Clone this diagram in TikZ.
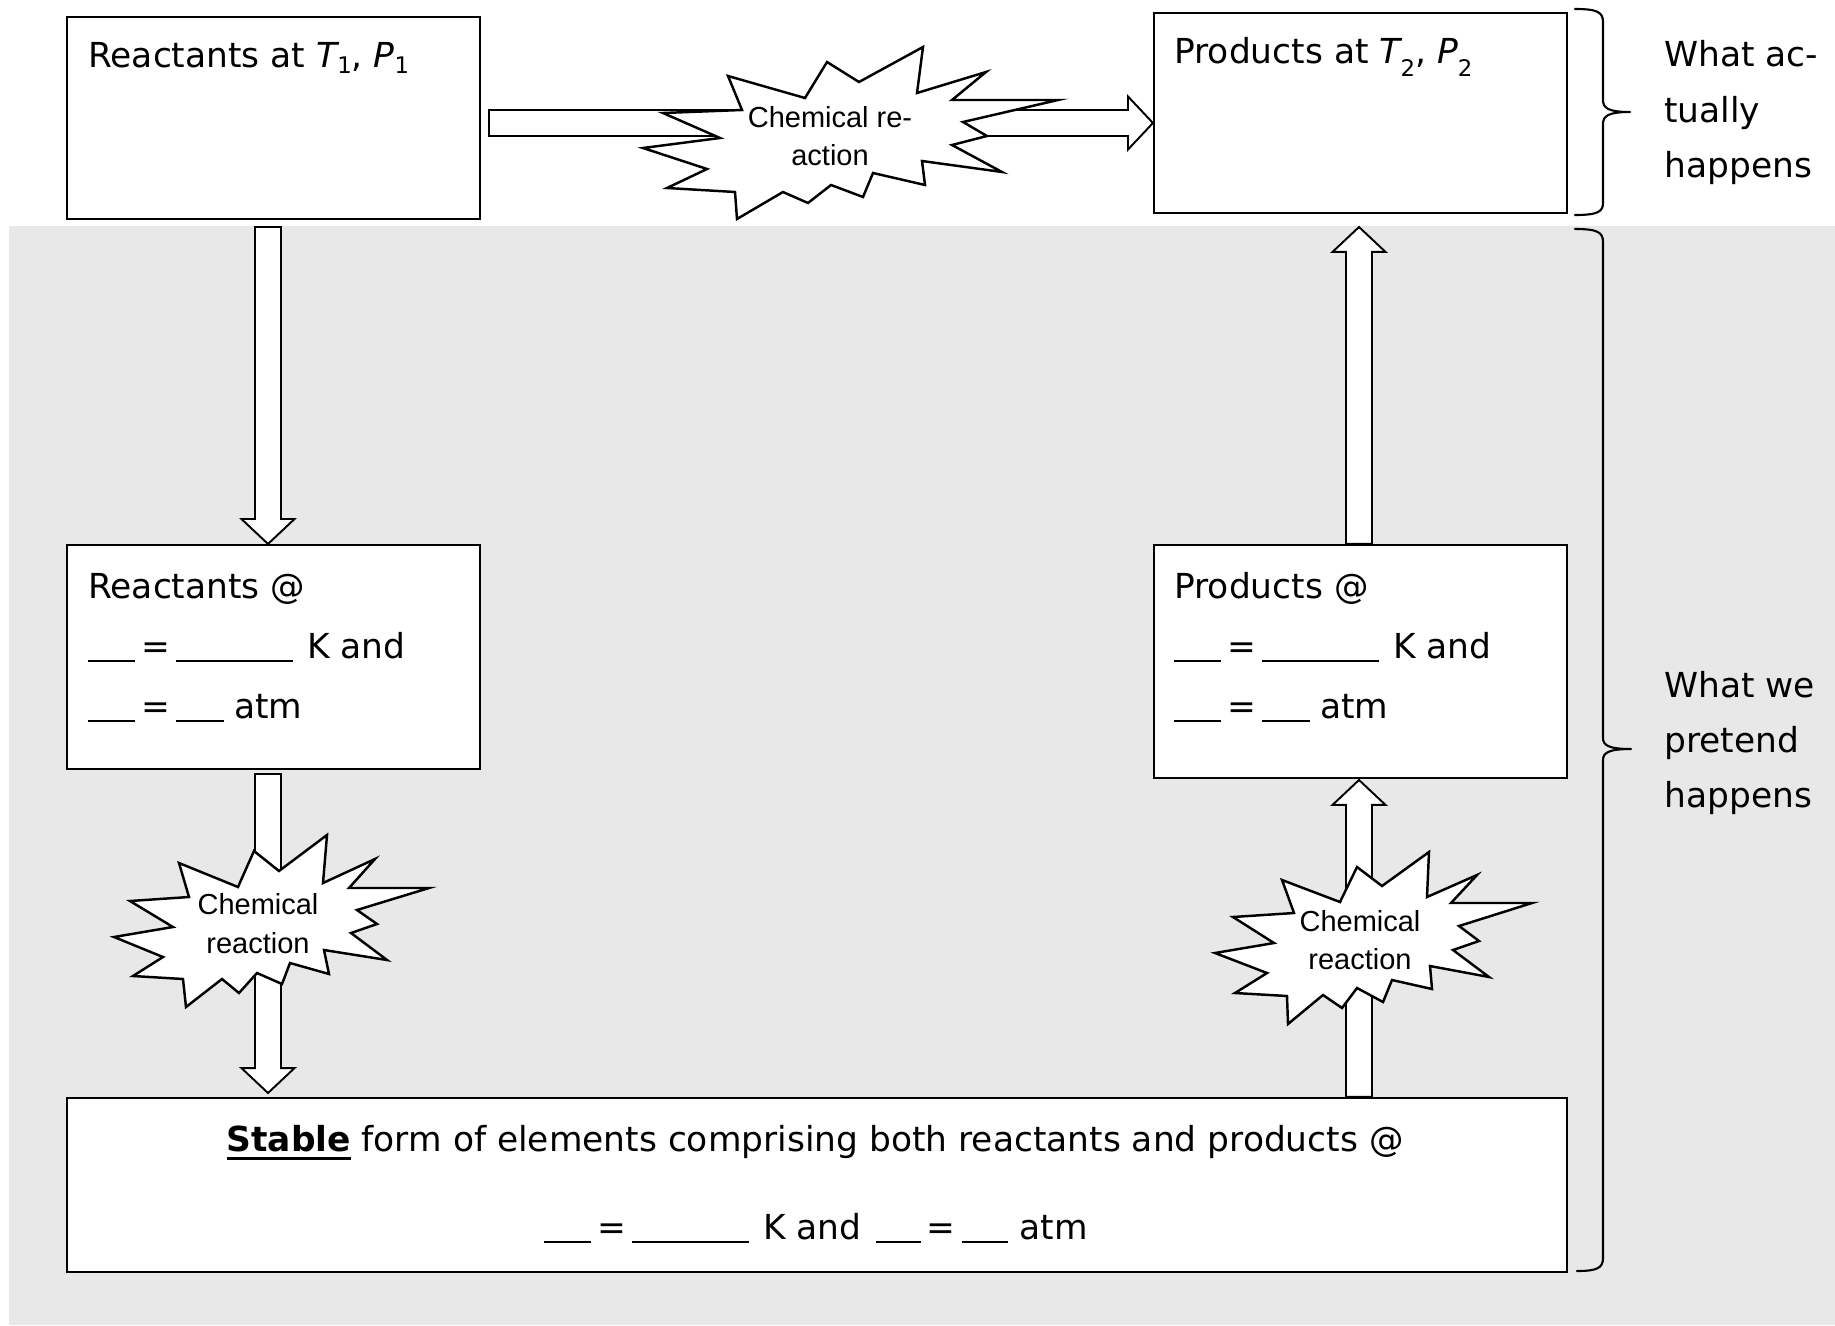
\documentclass[tikz,border=0pt]{standalone}
\usepackage{fontspec}
\setmainfont{DejaVu Sans}
\newfontfamily\arialf{Liberation Sans}
\usetikzlibrary{calc,fit}
\definecolor{bggray}{RGB}{232,232,232}
\newlength\pxl \setlength\pxl{0.02cm}
\newcommand\blk[1]{\rule[-0.12em]{#1\pxl}{1.4pt}}
\newcommand\eqbx{\makebox[41\pxl]{=}}
\newcommand\mainsz{\fontsize{19.6}{24}\selectfont}
\newcommand\starsz{\arialf\fontsize{16.5}{20}\selectfont}
\newcommand\lowsub[2]{\raisebox{#1}{\fontsize{13}{13}\selectfont #2}}
\newsavebox\ulbx
\newcommand\ulbold[1]{\sbox\ulbx{\bfseries #1}\rlap{\rule[-0.25em]{\wd\ulbx}{0.09em}}\usebox\ulbx}
\def\arsh{7.4pt}\def\arhh{15.1pt}\def\arhl{14.2pt}
\tikzset{
  box/.style={draw=black, fill=white, line width=1.2pt, inner sep=0pt},
  lbl/.style={anchor=base west, inner sep=0pt, font=\mainsz},
  stxt/.style={anchor=base, inner sep=0pt, font=\starsz},
  burst/.style={draw=black, fill=white, line width=1.4pt, line join=miter},
  bracel/.style={draw=black, line width=1.2pt, line join=round, line cap=round},
  blockarrow/.style={draw=black, fill=white, line width=1.1pt, line join=miter,
    to path={
      let \p1=(\tikztostart), \p2=(\tikztotarget),
          \n1={veclen(\x2-\x1,\y2-\y1)},
          \n2={(\x2-\x1)/\n1}, \n3={(\y2-\y1)/\n1}
      in ({\x1-\n3*\arsh},{\y1+\n2*\arsh})
      -- ({\x2-\n2*\arhl-\n3*\arsh},{\y2-\n3*\arhl+\n2*\arsh})
      -- ({\x2-\n2*\arhl-\n3*\arhh},{\y2-\n3*\arhl+\n2*\arhh})
      -- (\x2,\y2)
      -- ({\x2-\n2*\arhl+\n3*\arhh},{\y2-\n3*\arhl-\n2*\arhh})
      -- ({\x2-\n2*\arhl+\n3*\arsh},{\y2-\n3*\arhl-\n2*\arsh})
      -- ({\x1+\n3*\arsh},{\y1-\n2*\arsh})
      -- cycle
    }}
}
\begin{document}
\begin{tikzpicture}[x=0.02cm,y=-0.02cm]
\useasboundingbox (0,0) rectangle (1835,1325);
\fill[white] (0,0) rectangle (1835,1325);
\fill[bggray] (9,226) rectangle (1835,1325);

% boxes
\node[box, fit={(67,17) (480,219)}] (r1) {};
\node[box, fit={(1154,13) (1567,213)}] (p1) {};
\node[box, fit={(67,545) (480,769)}] (r2) {};
\node[box, fit={(1154,545) (1567,778)}] (p2) {};
\node[box, fit={(67,1098) (1567,1272)}] (stab) {};

% connector coordinates
\coordinate (atS) at (489,123);
\coordinate (d1S) at (268,227);
\coordinate (d2S) at (268,774);
\coordinate (d2T) at (268,1093);
\coordinate (u1S) at (1359,545);
\coordinate (u1T) at (1359,227);
\coordinate (u2S) at (1359,1098);
\coordinate (u2T) at (1359,780);

% block arrows
\draw[blockarrow] (atS) to (p1.west |- atS);
\draw[blockarrow] (d1S) to (d1S |- r2.north);
\draw[blockarrow] (d2S) to (d2T);
\draw[blockarrow] (u1S |- p2.north) to (u1T);
\draw[blockarrow] (u2S |- stab.north) to (u2T);

% starbursts
\draw[burst] (728,76) -- (805,98) -- (827,62) -- (859,82) -- (923,47) -- (917,93) -- (986,72) -- (952,100) -- (1058,100) -- (963,122) -- (987,136) -- (952,145) -- (1002,172) -- (922,161) -- (925,185) -- (873,173) -- (863,197) -- (831,185) -- (808,203) -- (783,192) -- (737,219) -- (735,192) -- (667,188) -- (707,169) -- (643,148) -- (720,138) -- (663,113) -- (742,110) -- cycle;
\draw[burst] (254,851) -- (279,871) -- (327,835) -- (323,883) -- (375,859) -- (349,888) -- (429,888) -- (357,910) -- (377,924) -- (351,933) -- (387,960) -- (324,950) -- (329,974) -- (290,963) -- (282,984) -- (257,973) -- (239,993) -- (222,979) -- (186,1007) -- (183,979) -- (133,976) -- (163,957) -- (114,937) -- (173,927) -- (130,901) -- (189,897) -- (179,863) -- (238,887) -- cycle;
\draw[burst] (1357,867) -- (1382,886) -- (1429,852) -- (1427,897) -- (1477,875) -- (1451,903) -- (1532,903) -- (1459,926) -- (1479,941) -- (1453,950) -- (1489,977) -- (1430,966) -- (1432,989) -- (1392,980) -- (1383,1002) -- (1357,988) -- (1342,1008) -- (1323,995) -- (1288,1024) -- (1287,996) -- (1235,993) -- (1267,973) -- (1215,953) -- (1274,943) -- (1233,917) -- (1294,913) -- (1282,880) -- (1340,902) -- cycle;

\node[stxt] (c1a) at (830,127) {Chemical re-};
\node[stxt] (c1b) at (830,165) {action};
\node[stxt] (c2a) at (258,914) {Chemical};
\node[stxt] (c2b) at (258,953) {reaction};
\node[stxt] (c3a) at (1360,931) {Chemical};
\node[stxt] (c3b) at (1360,969) {reaction};

% box texts
\node[lbl] (tr1) at (88,67) {Reactants at {\itshape T}\lowsub{-0.2em}{1}, {\itshape P}\lowsub{-0.2em}{1}};
\node[lbl] (tp1) at (1174,63) {Products at {\itshape T}\lowsub{-0.4em}{2}, {\itshape P}\lowsub{-0.4em}{2}};

\node[lbl] (tr2a) at (88,598) {Reactants @};
\node[lbl] (tr2b) at (88,658) {\blk{47}\eqbx\blk{117}\hspace{14\pxl}K and};
\node[lbl] (tr2c) at (88,718) {\blk{47}\eqbx\blk{48}\hspace{10\pxl}atm};

\node[lbl] (tp2a) at (1174,598) {Products @};
\node[lbl] (tp2b) at (1174,658) {\blk{47}\eqbx\blk{117}\hspace{14\pxl}K and};
\node[lbl] (tp2c) at (1174,718) {\blk{47}\eqbx\blk{48}\hspace{10\pxl}atm};

\node[lbl, anchor=base] (ts1) at (815,1151) {\ulbold{Stable} form of elements comprising both reactants and products @};
\node[lbl, anchor=base] (ts2) at (816,1239) {\blk{47}\eqbx\blk{117}\hspace{14\pxl}K and\hspace{14\pxl}\blk{45}\eqbx\blk{46}\hspace{12\pxl}atm};

% braces
\draw[bracel] (1575,9) .. controls (1597,9) and (1603,12) .. (1603,22) -- (1603,100) .. controls (1603,108) and (1608,112) .. (1630,112) .. controls (1608,112) and (1603,116) .. (1603,124) -- (1603,203) .. controls (1603,212) and (1597,215) .. (1575,215);
\draw[bracel] (1575,229) .. controls (1597,229) and (1603,232) .. (1603,242) -- (1603,738) .. controls (1603,745) and (1608,749) .. (1631,749) .. controls (1608,749) and (1603,753) .. (1603,760) -- (1603,1258) .. controls (1603,1268) and (1597,1271) .. (1577,1271);

% brace labels
\node[lbl] (w1) at (1664,66) {What ac-};
\node[lbl] (w2) at (1664,122) {tually};
\node[lbl] (w3) at (1664,177) {happens};
\node[lbl] (w4) at (1664,697) {What we};
\node[lbl] (w5) at (1664,752) {pretend};
\node[lbl] (w6) at (1664,807) {happens};
\end{tikzpicture}
\end{document}
